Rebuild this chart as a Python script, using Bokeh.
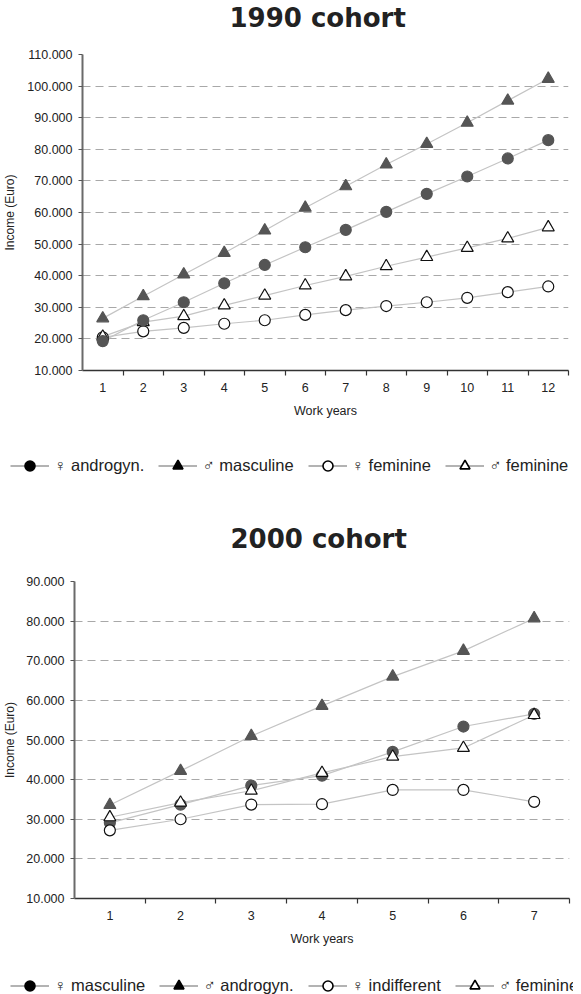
from bokeh.plotting import figure
from bokeh.layouts import column
from bokeh.models import FixedTicker, Legend, LegendItem, Title
from bokeh.embed import file_html
from bokeh.resources import INLINE

FEM = "\u2640"
MAL = "\u2642"

# ---------------- data: 1990 cohort ----------------
years_1990 = [1, 2, 3, 4, 5, 6, 7, 8, 9, 10, 11, 12]
w_androgyn_1990 = [19300, 25900, 31600, 37600, 43400, 49000, 54500, 60200, 65900, 71400, 77100, 82900]
m_masculine_1990 = [26500, 33500, 40400, 47200, 54300, 61500, 68300, 75200, 81700, 88400, 95400, 102300]
w_feminine_1990 = [20500, 22400, 23500, 24800, 25900, 27600, 29100, 30400, 31600, 33000, 34800, 36600]
m_feminine_1990 = [20700, 25300, 27200, 30600, 33700, 36900, 39800, 43000, 45900, 48800, 51800, 55300]
labels_1990 = [FEM + " androgyn.", MAL + " masculine", FEM + " feminine", MAL + " feminine"]

# ---------------- data: 2000 cohort ----------------
years_2000 = [1, 2, 3, 4, 5, 6, 7]
w_masculine_2000 = [29100, 33700, 38500, 41000, 47000, 53400, 56600]
m_androgyn_2000 = [33600, 42200, 51000, 58600, 66000, 72500, 80700]
w_indifferent_2000 = [27200, 30000, 33700, 33800, 37400, 37400, 34400]
m_feminine_2000 = [30500, 34200, 37200, 41700, 45800, 48000, 56300]
labels_2000 = [FEM + " masculine", MAL + " androgyn.", FEM + " indifferent", MAL + " feminine"]

y_ticks_1990 = [10000, 20000, 30000, 40000, 50000, 60000, 70000, 80000, 90000, 100000, 110000]
y_ticks_2000 = [10000, 20000, 30000, 40000, 50000, 60000, 70000, 80000, 90000]

FONT = "Liberation Sans"
LINE_C = "#c4c4c4"
DARK = "#555555"
SMALL = "12.5px"

STYLES = [
    dict(marker="circle", fill_color=DARK, line_color=DARK, size=11, leg_fill="black", leg_line="black"),
    dict(marker="triangle", fill_color=DARK, line_color=DARK, size=12, leg_fill="black", leg_line="black"),
    dict(marker="circle", fill_color="white", line_color="#111111", size=11, leg_fill="white", leg_line="black"),
    dict(marker="triangle", fill_color="white", line_color="#111111", size=12, leg_fill="white", leg_line="black"),
]


def fmt(v):
    return f"{v:,}".replace(",", ".")


def make_fig(title, years, series, yticks, frame_w, frame_h, min_left, min_bottom,
             spacer, title_offset, label_standoff, order):
    n = len(years)
    p = figure(frame_width=frame_w, frame_height=frame_h, output_backend="svg",
               toolbar_location=None,
               x_range=(0.5, n + 0.5), y_range=(yticks[0], yticks[-1]),
               min_border_left=min_left, min_border_right=573 - min_left - frame_w,
               min_border_top=0, min_border_bottom=min_bottom, title=None)
    p.outline_line_color = None
    p.background_fill_color = "white"
    p.border_fill_color = "white"

    # spacer between frame and title (closest to frame), then the real title
    p.add_layout(Title(text=" ", text_font_size="1px", standoff=spacer), "above")
    t = Title(text=title, align="left", offset=title_offset, vertical_align="bottom",
              text_font="DejaVu Sans", text_font_style="bold",
              text_font_size="26px", text_color="#222222", standoff=0)
    p.add_layout(t, "above")

    # x axis
    xa = p.xaxis[0]
    xa.ticker = FixedTicker(ticks=years, minor_ticks=[y + 0.5 for y in years])
    xa.major_tick_line_color = None
    xa.major_tick_out = 4
    xa.major_tick_in = 0
    xa.minor_tick_out = 5
    xa.minor_tick_in = 0
    xa.minor_tick_line_color = "#333333"
    xa.minor_tick_line_width = 1.2
    xa.axis_line_color = "#333333"
    xa.axis_line_width = 1.5
    xa.major_label_text_font = FONT
    xa.major_label_text_font_size = SMALL
    xa.major_label_text_color = "#222222"
    xa.major_label_standoff = 7
    xa.axis_label = "Work years"
    xa.axis_label_text_font = FONT
    xa.axis_label_text_font_size = SMALL
    xa.axis_label_text_font_style = "normal"
    xa.axis_label_text_color = "#222222"
    xa.axis_label_standoff = 9

    # y axis
    ya = p.yaxis[0]
    ya.ticker = FixedTicker(ticks=yticks, minor_ticks=[])
    ya.major_label_overrides = {v: fmt(v) for v in yticks}
    ya.major_tick_out = 4
    ya.major_tick_in = 0
    ya.major_tick_line_color = "#555555"
    ya.axis_line_color = "#6a6a6a"
    ya.axis_line_width = 2
    ya.major_label_text_font = FONT
    ya.major_label_text_font_size = SMALL
    ya.major_label_text_color = "#222222"
    ya.major_label_standoff = 6
    ya.axis_label = "Income (Euro)"
    ya.axis_label_text_font = FONT
    ya.axis_label_text_font_size = "12px"
    ya.axis_label_text_font_style = "normal"
    ya.axis_label_text_color = "#222222"
    ya.axis_label_standoff = label_standoff

    p.xgrid.grid_line_color = None
    p.ygrid.grid_line_color = "#a8a8a8"
    p.ygrid.grid_line_dash = "8 5"
    p.ygrid.grid_line_width = 1

    for vals in series:
        p.line(years, vals, line_color=LINE_C, line_width=1.2)

    for i in order:
        s = STYLES[i]
        p.scatter(years, series[i], marker=s["marker"], size=s["size"],
                  fill_color=s["fill_color"], line_color=s["line_color"], line_width=1.2)
    return p


def make_legend(labels, frame_h, loc):
    lf = figure(frame_width=573, frame_height=frame_h, output_backend="svg",
                toolbar_location=None,
                x_range=(0, 1), y_range=(0, 1), x_axis_type=None, y_axis_type=None,
                min_border=0, title=None)
    lf.outline_line_color = None
    lf.xgrid.grid_line_color = None
    lf.ygrid.grid_line_color = None
    nan = float("nan")
    items = []
    for i, lab in enumerate(labels):
        s = STYLES[i]
        lr = lf.line([nan], [nan], line_color="#9a9a9a", line_width=1.3)
        sr = lf.scatter([nan], [nan], marker=s["marker"], size=s["size"],
                        fill_color=s["leg_fill"], line_color=s["leg_line"], line_width=1.6)
        items.append(LegendItem(label=lab, renderers=[lr, sr]))
    leg = Legend(items=items, orientation="horizontal", location=loc,
                 glyph_width=39, glyph_height=25, label_standoff=5, spacing=14,
                 padding=0, margin=0, border_line_color=None, background_fill_alpha=0,
                 label_text_font=FONT, label_text_font_size="16.5px",
                 label_text_color="#222222", label_height=25)
    lf.add_layout(leg, "center")
    return lf


p1 = make_fig("1990 cohort", years_1990,
              [w_androgyn_1990, m_masculine_1990, w_feminine_1990, m_feminine_1990],
              y_ticks_1990, frame_w=486, frame_h=316, min_left=76,
              min_bottom=82, spacer=19, title_offset=147, label_standoff=7,
              order=[2, 3, 1, 0])
l1 = make_legend(labels_1990, 69, (10, 43))

p2 = make_fig("2000 cohort", years_2000,
              [w_masculine_2000, m_androgyn_2000, w_indifferent_2000, m_feminine_2000],
              y_ticks_2000, frame_w=495, frame_h=317, min_left=67,
              min_bottom=74, spacer=25, title_offset=156, label_standoff=6,
              order=[0, 1, 2, 3])
l2 = make_legend(labels_2000, 24, (10, -2))

layout = column(column(p1), column(l1), column(p2), column(l2), spacing=0)
open("out.html", "w").write(file_html(layout, INLINE))
